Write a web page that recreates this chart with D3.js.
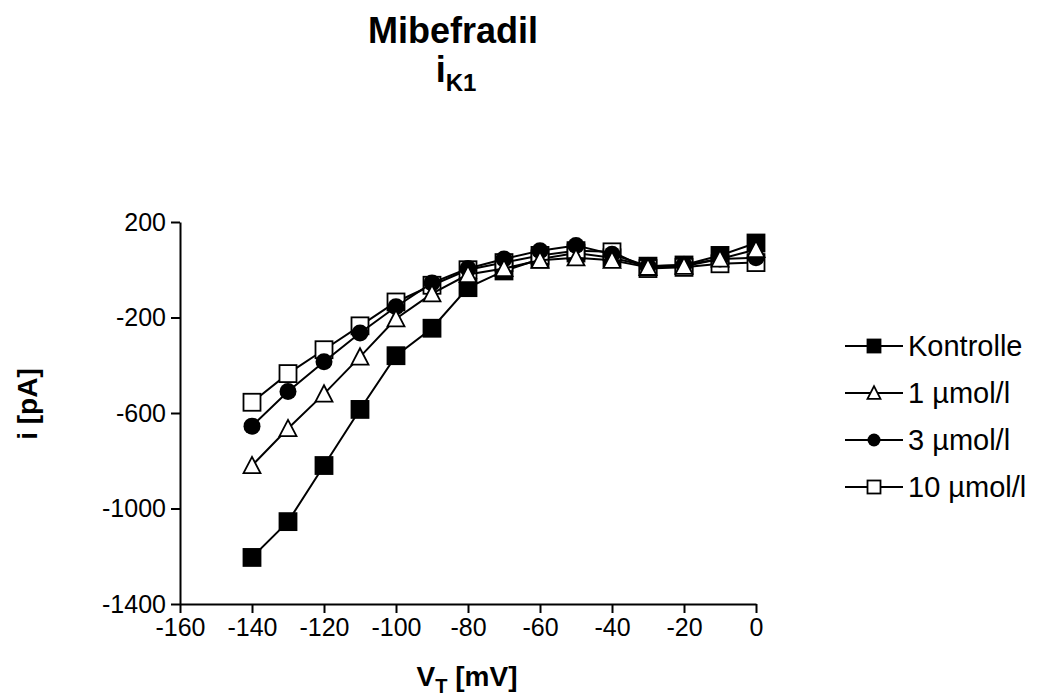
<!DOCTYPE html>
<html>
<head>
<meta charset="utf-8">
<script src="https://cdn.jsdelivr.net/npm/d3@7"></script>
<style>
  body { margin: 0; background: #fff; }
  svg { font-family: Arial, "Liberation Sans", sans-serif; }
</style>
</head>
<body>
<div id="grafico"></div>
<script>
// Spannung (mV)
const voltages = [-140, -130, -120, -110, -100, -90, -80, -70, -60, -50, -40, -30, -20, -10, 0];

// Strom (pA) je Gruppe
const kontrolle = [-1205, -1055, -820, -585, -360, -245, -75, -5, 45, 70, 50, 15, 20, 60, 112];
const mibe1 = [-820, -665, -520, -365, -205, -100, -20, 5, 40, 50, 40, 10, 15, 45, 85];
const mibe3 = [-655, -510, -385, -265, -155, -55, 5, 45, 80, 102, 65, 15, 20, 45, 50];
const mibe10 = [-555, -435, -335, -235, -135, -65, 0, 30, 60, 80, 75, 5, 10, 25, 30];

const seriesNames = ["Kontrolle", "1 µmol/l", "3 µmol/l", "10 µmol/l"];
const xTicks = [-160, -140, -120, -100, -80, -60, -40, -20, 0];
const yTicks = [200, -200, -600, -1000, -1400];

const width = 1042;
const height = 700;

const svg = d3.select('#grafico')
    .append('svg')
    .attr('width', width)
    .attr('height', height);

const xScale = d3.scaleLinear().domain([-160, 0]).range([180, 756]);
const yScale = d3.scaleLinear().domain([-1400, 200]).range([604, 222]);

// Achsen (Bindestrich statt Minuszeichen, ohne Tausendertrenner)
const xAxis = d3.axisBottom(xScale).tickValues(xTicks).tickFormat(d => String(d))
    .tickSize(9).tickSizeOuter(0).tickPadding(5);
const yAxis = d3.axisLeft(yScale).tickValues(yTicks).tickFormat(d => String(d))
    .tickSize(9).tickSizeOuter(0).tickPadding(5);

const gx = svg.append('g')
    .attr('transform', `translate(0, ${yScale(-1400)})`)
    .call(xAxis);
const gy = svg.append('g')
    .attr('transform', `translate(${xScale(-160)}, 0)`)
    .call(yAxis);

[gx, gy].forEach(g => {
    g.selectAll('path, line').attr('stroke', '#000').attr('stroke-width', 2);
    g.selectAll('text').attr('fill', '#000').style('font-size', '25px');
});

// Marker
function drawMarker(g, type, x, y, s) {
    if (type === 'fsquare' || type === 'osquare') {
        g.append('rect')
            .attr('x', x - s / 2).attr('y', y - s / 2)
            .attr('width', s).attr('height', s)
            .attr('fill', type === 'fsquare' ? '#000' : '#fff')
            .attr('stroke', '#000').attr('stroke-width', 1.8);
    } else if (type === 'circle') {
        g.append('circle')
            .attr('cx', x).attr('cy', y).attr('r', s / 2)
            .attr('fill', '#000');
    } else {
        const h = s * 0.9;
        g.append('path')
            .attr('d', `M${x},${y - h / 2 - 1} L${x + s / 2},${y + h / 2} L${x - s / 2},${y + h / 2} Z`)
            .attr('fill', '#fff').attr('stroke', '#000').attr('stroke-width', 1.8);
    }
}

const series = [
    { name: seriesNames[0], values: kontrolle, type: 'fsquare' },
    { name: seriesNames[1], values: mibe1, type: 'triangle' },
    { name: seriesNames[2], values: mibe3, type: 'circle' },
    { name: seriesNames[3], values: mibe10, type: 'osquare' }
];

const line = d3.line()
    .x((d, i) => xScale(voltages[i]))
    .y(d => yScale(d));

// Zeichenreihenfolge: Kontrolle, 10, 3, 1
[0, 3, 2, 1].forEach(k => {
    const s = series[k];
    const g = svg.append('g');
    g.append('path')
        .attr('d', line(s.values))
        .attr('fill', 'none')
        .attr('stroke', '#000')
        .attr('stroke-width', 2);
    s.values.forEach((v, i) => drawMarker(g, s.type, xScale(voltages[i]), yScale(v), 17));
});

// Legende
const legend = svg.append('g');
series.forEach((s, i) => {
    const y = 346 + i * 47;
    legend.append('line')
        .attr('x1', 845).attr('x2', 903)
        .attr('y1', y).attr('y2', y)
        .attr('stroke', '#000').attr('stroke-width', 2);
    drawMarker(legend, s.type, 874, y, 13);
    legend.append('text')
        .attr('x', 908).attr('y', y + 10)
        .style('font-size', '29px')
        .text(s.name);
});

// Titel
svg.append('text')
    .attr('x', 453).attr('y', 43)
    .attr('text-anchor', 'middle')
    .style('font-size', '36px').style('font-weight', 'bold')
    .text('Mibefradil');
const sub = svg.append('text')
    .attr('x', 456).attr('y', 82)
    .attr('text-anchor', 'middle')
    .style('font-size', '36px').style('font-weight', 'bold');
sub.append('tspan').text('i');
sub.append('tspan').attr('dy', 9).style('font-size', '24px').text('K1');

// Achsentitel
svg.append('text')
    .attr('transform', 'translate(37, 404) rotate(-90)')
    .attr('text-anchor', 'middle')
    .style('font-size', '28px').style('font-weight', 'bold')
    .text('i [pA]');
const xt = svg.append('text')
    .attr('x', 467).attr('y', 686)
    .attr('text-anchor', 'middle')
    .style('font-size', '28px').style('font-weight', 'bold');
xt.append('tspan').text('V');
xt.append('tspan').attr('dy', 7).style('font-size', '20px').text('T');
xt.append('tspan').attr('dy', -7).text(' [mV]');
</script>
</body>
</html>
